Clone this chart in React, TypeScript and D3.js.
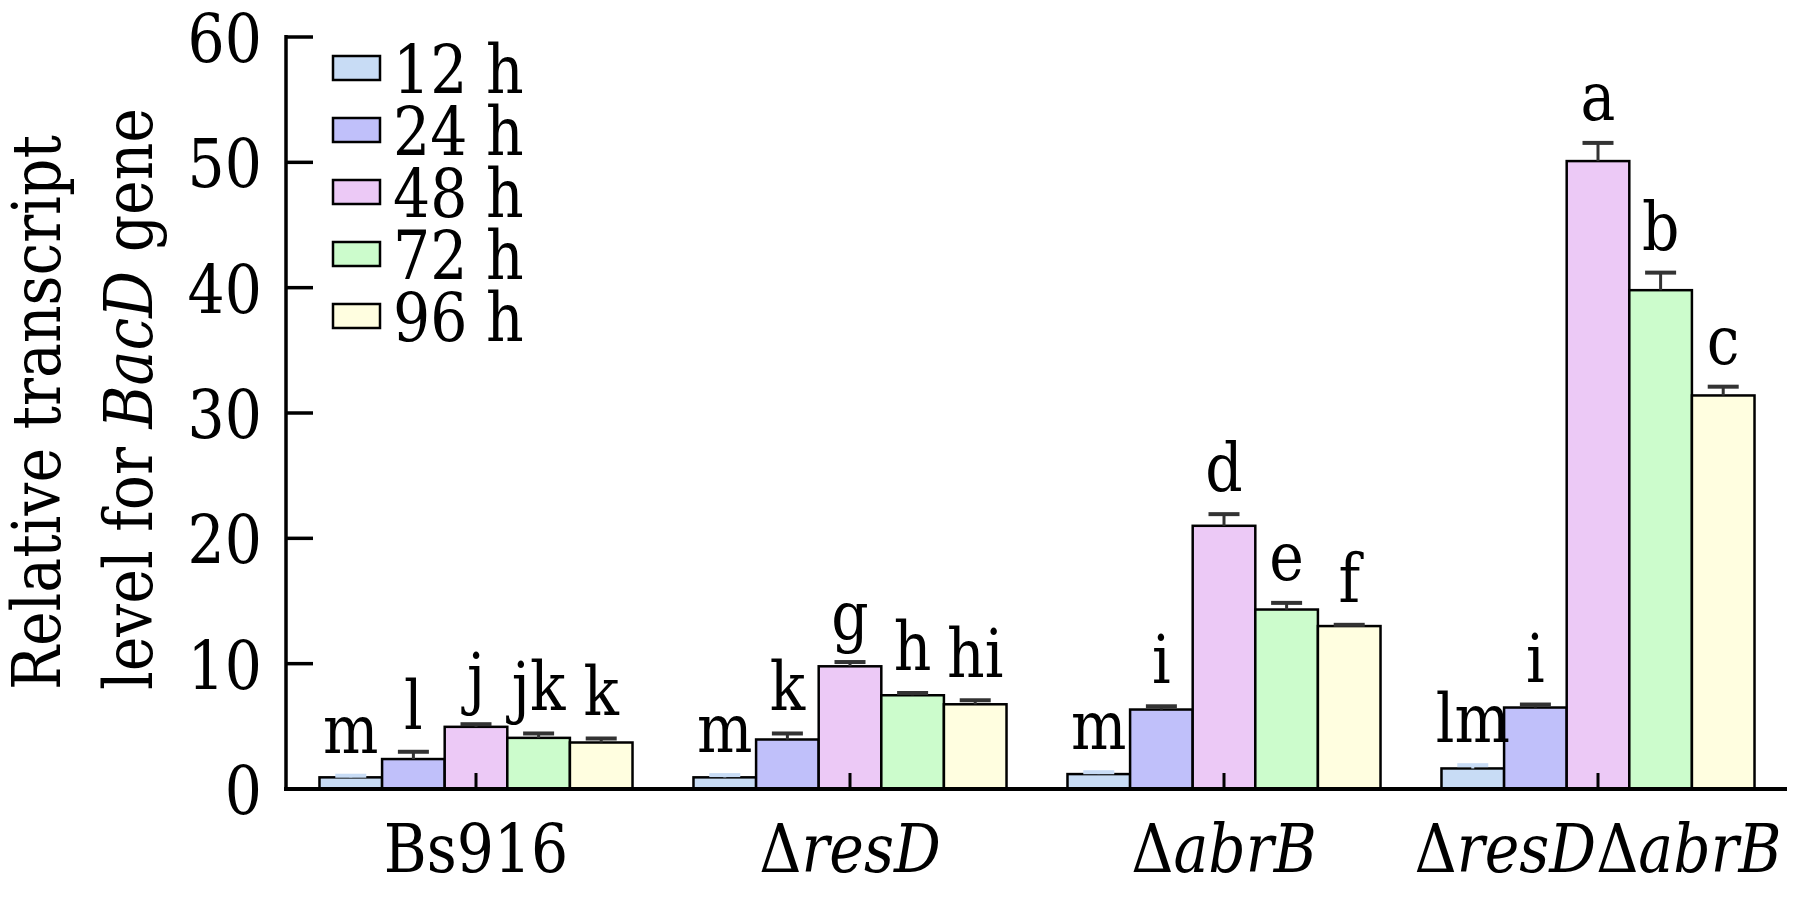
import React from "react";
import * as d3 from "d3";

// ---- data ----
const groups = ["Bs916", "ΔresD", "ΔabrB", "ΔresDΔabrB"];
const groupLabelParts: { t: string; it: boolean }[][] = [
  [{ t: "Bs916", it: false }],
  [{ t: "Δ", it: false }, { t: "resD", it: true }],
  [{ t: "Δ", it: false }, { t: "abrB", it: true }],
  [
    { t: "Δ", it: false },
    { t: "resD", it: true },
    { t: "Δ", it: false },
    { t: "abrB", it: true },
  ],
];
const series = ["12 h", "24 h", "48 h", "72 h", "96 h"];
const seriesColors = ["#c8dcf5", "#c0c0fa", "#ecc9f6", "#ccfccc", "#fffee0"];
const errColors = ["#c8dcf5", "#333333", "#333333", "#333333", "#333333"];

// values per series (one per group)
const values12 = [0.93, 0.93, 1.19, 1.64];
const values24 = [2.39, 3.95, 6.34, 6.5];
const values48 = [4.96, 9.79, 21.0, 50.1];
const values72 = [4.08, 7.48, 14.32, 39.8];
const values96 = [3.71, 6.76, 13.0, 31.4];

const err12 = [0.13, 0.18, 0.15, 0.26];
const err24 = [0.58, 0.48, 0.26, 0.24];
const err48 = [0.21, 0.34, 0.93, 1.45];
const err72 = [0.35, 0.18, 0.53, 1.4];
const err96 = [0.32, 0.32, 0.1, 0.7];

const letters12 = ["m", "m", "m", "lm"];
const letters24 = ["l", "k", "i", "i"];
const letters48 = ["j", "g", "d", "a"];
const letters72 = ["jk", "h", "e", "b"];
const letters96 = ["k", "hi", "f", "c"];

const yTicks = [0, 10, 20, 30, 40, 50, 60];
const yTitleLine1 = [{ t: "Relative transcript", it: false }];
const yTitleLine2 = [
  { t: "level for ", it: false },
  { t: "BacD", it: true },
  { t: " gene", it: false },
];

const allValues = [values12, values24, values48, values72, values96];
const allErr = [err12, err24, err48, err72, err96];
const allLetters = [letters12, letters24, letters48, letters72, letters96];

// ---- layout / style ----
const W = 1804;
const H = 897;
const FONT = '"DejaVu Serif", serif';
const FS = 68;
const SX = 0.86; // horizontal condensation to approximate Times proportions
const axisX = 286;
const baseY = 789;

type Part = { t: string; it: boolean };

function SText(props: {
  x: number;
  y: number;
  anchor?: "start" | "middle" | "end";
  rotate?: boolean;
  parts?: Part[];
  children?: React.ReactNode;
}) {
  const { x, y, anchor = "start", rotate = false, parts, children } = props;
  return (
    <text
      transform={`translate(${x},${y})${rotate ? " rotate(-90)" : ""} scale(${SX},1)`}
      x={0}
      y={0}
      textAnchor={anchor}
      fill="#000"
      style={{ fontFamily: FONT, fontSize: FS }}
    >
      {parts
        ? parts.map((p, i) => (
            <tspan key={i} style={{ fontStyle: p.it ? "italic" : "normal" }}>
              {p.t}
            </tspan>
          ))
        : children}
    </text>
  );
}

export default function App() {
  const y = d3.scaleLinear().domain([0, 60]).range([baseY, 37]);
  const x0 = d3
    .scaleBand<string>()
    .domain(groups)
    .range([289, 1785])
    .paddingInner(0.163)
    .paddingOuter(0.0815);
  const x1 = d3
    .scaleBand<string>()
    .domain(series)
    .range([0, x0.bandwidth()])
    .padding(0);

  const capW = 31;

  return (
    <svg
      width={W}
      height={H}
      viewBox={`0 0 ${W} ${H}`}
      style={{ position: "absolute", left: 0, top: 0, background: "#fff" }}
    >
      <rect x={0} y={0} width={W} height={H} fill="#fff" />

      {/* y axis title */}
      <SText x={60} y={690} rotate parts={yTitleLine1} />
      <SText x={152} y={690} rotate parts={yTitleLine2} />

      {/* y ticks and labels */}
      {yTicks.map((t) => (
        <g key={t}>
          <line
            x1={axisX}
            x2={axisX + 27}
            y1={y(t)}
            y2={y(t)}
            stroke="#000"
            strokeWidth={3.5}
          />
          <SText x={262} y={y(t) + 25} anchor="end">
            {t}
          </SText>
        </g>
      ))}

      {/* bars */}
      {groups.map((g, gi) => (
        <g key={g} transform={`translate(${x0(g)},0)`}>
          {series.map((s, si) => {
            const v = allValues[si][gi];
            const bx = x1(s)!;
            const bw = x1.bandwidth();
            return (
              <rect
                key={s}
                x={bx}
                y={y(v)}
                width={bw}
                height={baseY - y(v)}
                fill={seriesColors[si]}
                stroke="#000"
                strokeWidth={2.5}
              />
            );
          })}
          {series.map((s, si) => {
            const v = allValues[si][gi];
            const e = allErr[si][gi];
            const bx = x1(s)!;
            const bw = x1.bandwidth();
            const cx = bx + bw / 2;
            return (
              <g key={s + "e"}>
                <line
                  x1={cx}
                  x2={cx}
                  y1={y(v)}
                  y2={y(v + e)}
                  stroke={errColors[si]}
                  strokeWidth={3}
                />
                <line
                  x1={cx - capW / 2}
                  x2={cx + capW / 2}
                  y1={y(v + e)}
                  y2={y(v + e)}
                  stroke={errColors[si]}
                  strokeWidth={4}
                />
                <SText x={cx} y={y(v + e) - 23} anchor="middle">
                  {allLetters[si][gi]}
                </SText>
              </g>
            );
          })}
          {/* x tick */}
          <line
            x1={x0.bandwidth() / 2}
            x2={x0.bandwidth() / 2}
            y1={baseY}
            y2={baseY - 16}
            stroke="#000"
            strokeWidth={3}
          />
          {/* group label */}
          <SText
            x={x0.bandwidth() / 2}
            y={872}
            anchor="middle"
            parts={groupLabelParts[gi]}
          />
        </g>
      ))}

      {/* axes lines */}
      <line x1={axisX} x2={axisX} y1={35} y2={baseY + 2} stroke="#000" strokeWidth={3.5} />
      <line x1={axisX - 2} x2={1787} y1={baseY} y2={baseY} stroke="#000" strokeWidth={4} />

      {/* legend */}
      {series.map((s, si) => {
        const cy = 68 + si * 62;
        return (
          <g key={s}>
            <rect
              x={333}
              y={cy - 12}
              width={47}
              height={24}
              fill={seriesColors[si]}
              stroke="#000"
              strokeWidth={2.5}
            />
            <SText x={393} y={cy + 25}>
              {s}
            </SText>
          </g>
        );
      })}
    </svg>
  );
}
